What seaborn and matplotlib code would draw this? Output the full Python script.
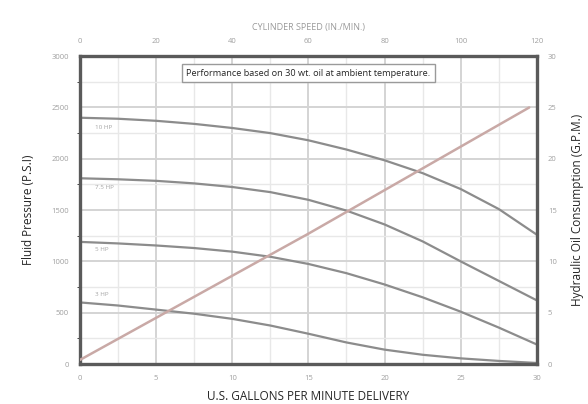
import numpy as np
import pandas as pd
import seaborn as sns
import matplotlib.pyplot as plt

# delivery (GPM) and fluid pressure (PSI) for each curve
gpm = [0, 2.5, 5, 7.5, 10, 12.5, 15, 17.5, 20, 22.5, 25, 27.5, 30]
psi_a = [2400, 2390, 2370, 2340, 2300, 2250, 2180, 2090, 1985, 1860, 1705, 1510, 1260]
psi_b = [1810, 1800, 1785, 1760, 1725, 1675, 1600, 1495, 1360, 1195, 1000, 810, 620]
psi_c = [1190, 1175, 1155, 1130, 1095, 1045, 975, 885, 775, 650, 510, 355, 190]
psi_d = [600, 570, 530, 490, 440, 375, 295, 210, 140, 90, 55, 30, 10]
curve_names = ['10 HP', '7.5 HP', '5 HP', '3 HP']

# hydraulic oil consumption line (right axis)
oil_gpm = [0, 15, 29.5]
oil_use = [0.4, 12.7, 25.0]

x_ticks = [0, 5, 10, 15, 20, 25, 30]
y_ticks = [0, 500, 1000, 1500, 2000, 2500, 3000]
top_ticks = ['0', '20', '40', '60', '80', '100', '120']
right_ticks = [0, 5, 10, 15, 20, 25, 30]

sns.set_style('white')
plt.rcParams['font.family'] = ['Open Sans', 'DejaVu Sans']

df = pd.DataFrame({
    'gpm': gpm * 4,
    'psi': psi_a + psi_b + psi_c + psi_d,
    'curve': sum([[n] * len(gpm) for n in curve_names], []),
})
oil = pd.DataFrame({'gpm': oil_gpm, 'use': oil_use})

fig = plt.figure(figsize=(5.88, 4.04), dpi=100)
ax = fig.add_axes([0.136, 0.099, 0.777, 0.762])

# light grid
ax.set_xticks(np.arange(0, 30.1, 2.5), minor=True)
ax.set_yticks(np.arange(0, 3001, 250), minor=True)
ax.grid(True, which='major', color='#d4d4d4', lw=1.4)
ax.grid(True, which='minor', color='#e8e8e8', lw=1.0)

sns.lineplot(data=df, x='gpm', y='psi', hue='curve', palette=['#8c8c8c'] * 4,
             legend=False, lw=1.6, ax=ax)

ax.set_xlim(0, 30)
ax.set_ylim(0, 3000)
ax.set_xticks(x_ticks)
ax.set_yticks(y_ticks)
ax.tick_params(length=0, labelsize=5.5, labelcolor='#a0a0a0', pad=8)
ax.set_xlabel('U.S. GALLONS PER MINUTE DELIVERY', fontsize=8.5, labelpad=6)
ax.set_ylabel('Fluid Pressure (P.S.I)', fontsize=8.5, labelpad=12)
for s in ax.spines.values():
    s.set_color('#5a5a5a')
    s.set_linewidth(2.4)

# curve labels
label_y = [2300, 1720, 1120, 680]
for n, yy in zip(curve_names, label_y):
    ax.text(1.0, yy, n, fontsize=4.5, color='#a5a5a5', va='center')

ax.text(0.5, 0.945, 'Performance based on 30 wt. oil at ambient temperature.',
        transform=ax.transAxes, ha='center', va='center', fontsize=6.6,
        bbox=dict(boxstyle='square,pad=0.45', fc='white', ec='#9a9a9a', lw=1.0))

ax2 = ax.twinx()
sns.lineplot(data=oil, x='gpm', y='use', color='#c9a9a6', lw=1.8, ax=ax2)
ax2.set_ylim(0, 30)
ax2.set_yticks(right_ticks)
ax2.tick_params(length=0, labelsize=5.5, labelcolor='#a0a0a0', pad=8)
ax2.set_ylabel('Hydraulic Oil Consumption (G.P.M.)', fontsize=8.5, labelpad=10)
ax2.set_xlabel('')
for s in ax2.spines.values():
    s.set_visible(False)

top = ax.secondary_xaxis('top')
top.set_xticks(x_ticks)
top.set_xticklabels(top_ticks)
top.tick_params(length=0, labelsize=5.5, labelcolor='#a0a0a0', pad=8)
top.set_xlabel('CYLINDER SPEED (IN./MIN.)', fontsize=6.5, color='#9a9a9a', labelpad=6)
top.spines['top'].set_visible(False)

fig.savefig('out.png', dpi=100)
